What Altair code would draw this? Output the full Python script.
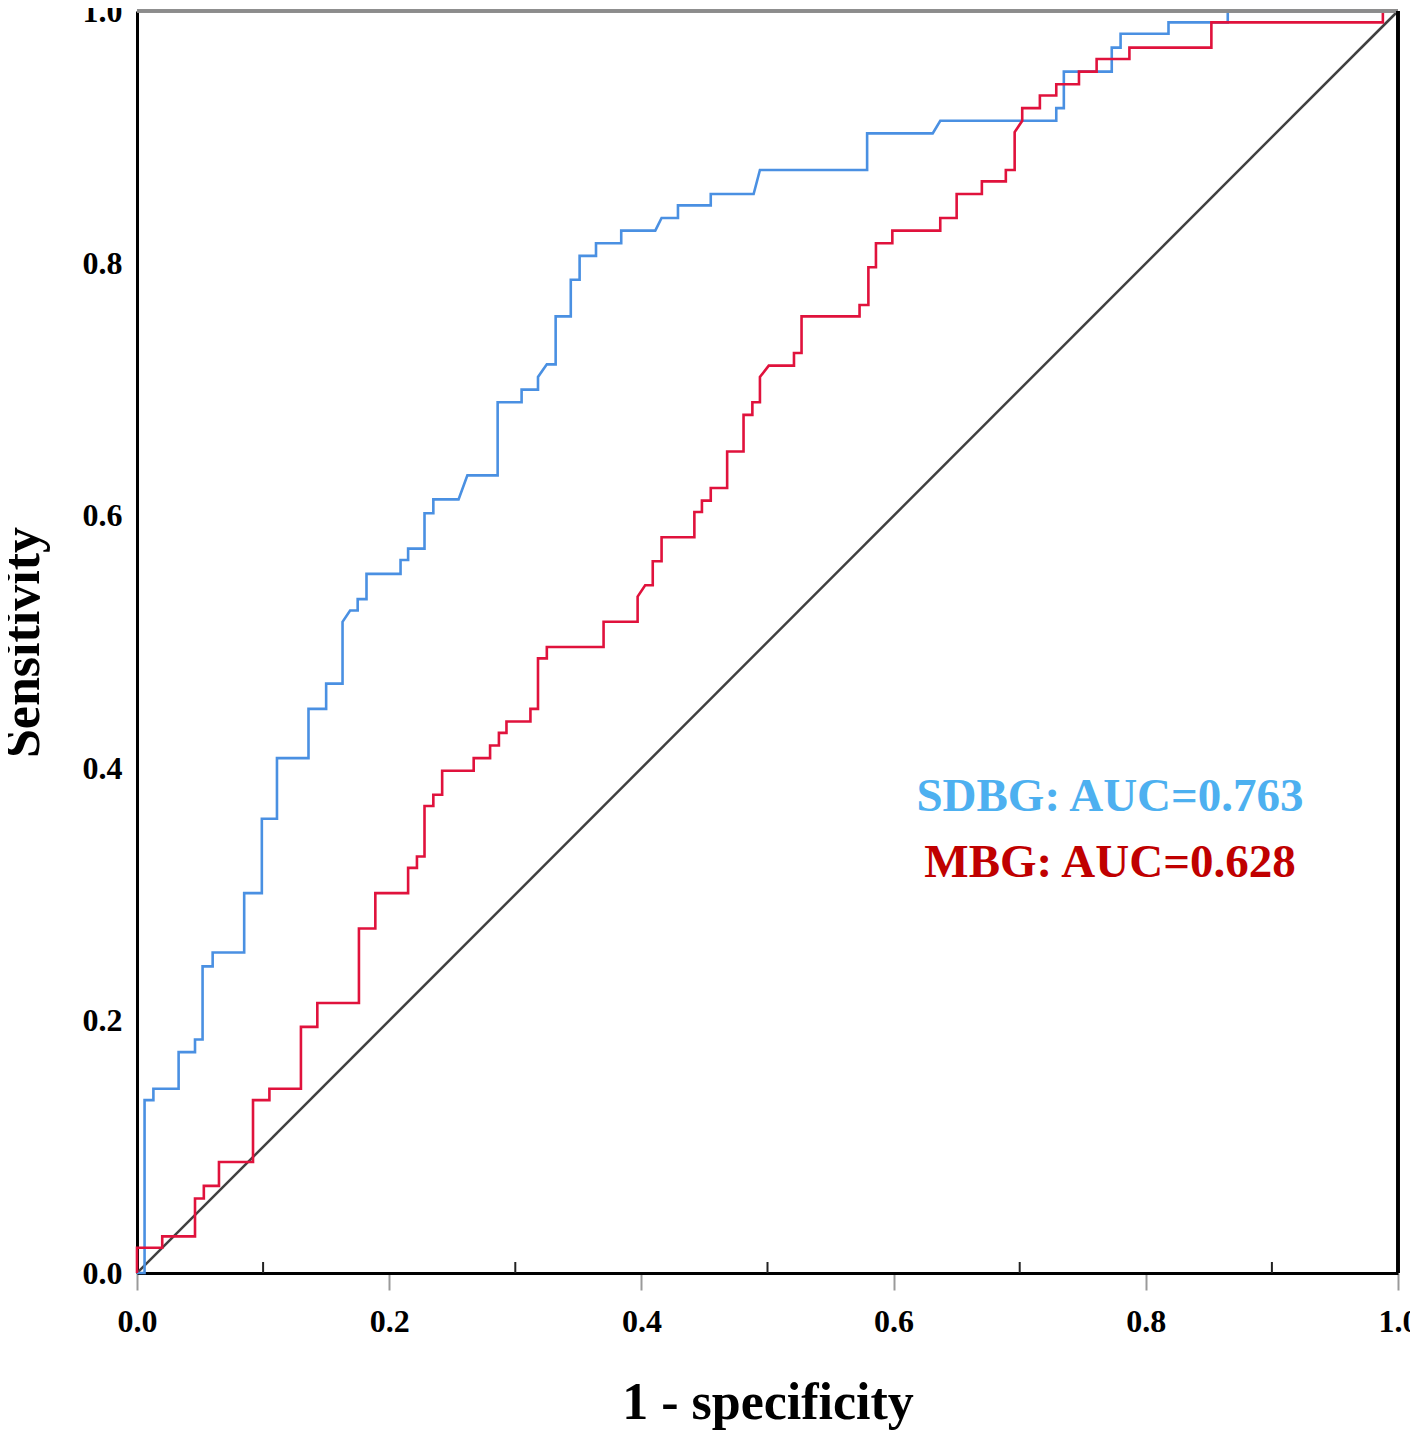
import altair as alt
import pandas as pd

# ---- data ----
sdbg_fpr = [0, 0.006, 0.006, 0.013, 0.013, 0.033, 0.033, 0.046, 0.046, 0.052, 0.052, 0.060, 0.060,
            0.085, 0.085, 0.099, 0.099, 0.111, 0.111, 0.136, 0.136, 0.150, 0.150, 0.163, 0.163, 0.169,
            0.175, 0.175, 0.182, 0.182, 0.209, 0.209, 0.215, 0.215, 0.228, 0.228, 0.235, 0.235, 0.255,
            0.262, 0.286, 0.286, 0.305, 0.305, 0.318, 0.318, 0.325, 0.332, 0.332, 0.344, 0.344, 0.351,
            0.351, 0.364, 0.364, 0.384, 0.384, 0.411, 0.416, 0.429, 0.429, 0.455, 0.455, 0.489, 0.494,
            0.579, 0.579, 0.631, 0.637, 0.729, 0.729, 0.735, 0.735, 0.773, 0.773, 0.780, 0.780, 0.818,
            0.818, 0.865, 0.865, 1.0]
sdbg_tpr = [0, 0, 0.137, 0.137, 0.146, 0.146, 0.175, 0.175, 0.185, 0.185, 0.243, 0.243, 0.254,
            0.254, 0.301, 0.301, 0.360, 0.360, 0.408, 0.408, 0.447, 0.447, 0.467, 0.467, 0.516, 0.525,
            0.525, 0.534, 0.534, 0.554, 0.554, 0.565, 0.565, 0.574, 0.574, 0.602, 0.602, 0.613, 0.613,
            0.632, 0.632, 0.690, 0.690, 0.700, 0.700, 0.710, 0.720, 0.720, 0.758, 0.758, 0.787, 0.787,
            0.806, 0.806, 0.816, 0.816, 0.826, 0.826, 0.836, 0.836, 0.846, 0.846, 0.855, 0.855, 0.874,
            0.874, 0.903, 0.903, 0.913, 0.913, 0.923, 0.923, 0.952, 0.952, 0.971, 0.971, 0.982, 0.982,
            0.991, 0.991, 1.0, 1.0]

mbg_fpr = [0, 0, 0.020, 0.020, 0.046, 0.046, 0.053, 0.053, 0.065, 0.065, 0.092, 0.092, 0.105, 0.105,
           0.130, 0.130, 0.143, 0.143, 0.176, 0.176, 0.189, 0.189, 0.215, 0.215, 0.222, 0.222, 0.228,
           0.228, 0.235, 0.235, 0.242, 0.242, 0.267, 0.267, 0.280, 0.280, 0.287, 0.287, 0.293, 0.293,
           0.312, 0.312, 0.318, 0.318, 0.325, 0.325, 0.370, 0.370, 0.397, 0.397, 0.403, 0.409, 0.409,
           0.416, 0.416, 0.442, 0.442, 0.448, 0.448, 0.455, 0.455, 0.468, 0.468, 0.481, 0.481, 0.488,
           0.488, 0.494, 0.494, 0.501, 0.521, 0.521, 0.527, 0.527, 0.573, 0.573, 0.580, 0.580, 0.586,
           0.586, 0.599, 0.599, 0.637, 0.637, 0.650, 0.650, 0.670, 0.670, 0.689, 0.689, 0.696, 0.696,
           0.702, 0.702, 0.716, 0.716, 0.729, 0.729, 0.747, 0.747, 0.761, 0.761, 0.787, 0.787, 0.852,
           0.852, 0.988, 0.988, 1.0]
mbg_tpr = [0, 0.020, 0.020, 0.029, 0.029, 0.059, 0.059, 0.069, 0.069, 0.088, 0.088, 0.137, 0.137, 0.146,
           0.146, 0.195, 0.195, 0.214, 0.214, 0.273, 0.273, 0.301, 0.301, 0.321, 0.321, 0.330, 0.330,
           0.370, 0.370, 0.379, 0.379, 0.398, 0.398, 0.408, 0.408, 0.418, 0.418, 0.428, 0.428, 0.437,
           0.437, 0.447, 0.447, 0.487, 0.487, 0.496, 0.496, 0.516, 0.516, 0.536, 0.545, 0.545, 0.564,
           0.564, 0.583, 0.583, 0.603, 0.603, 0.612, 0.612, 0.622, 0.622, 0.651, 0.651, 0.680, 0.680,
           0.690, 0.690, 0.710, 0.719, 0.719, 0.729, 0.729, 0.758, 0.758, 0.767, 0.767, 0.797, 0.797,
           0.816, 0.816, 0.826, 0.826, 0.836, 0.836, 0.855, 0.855, 0.865, 0.865, 0.874, 0.874, 0.904,
           0.913, 0.923, 0.923, 0.933, 0.933, 0.942, 0.942, 0.952, 0.952, 0.962, 0.962, 0.971, 0.971,
           0.991, 0.991, 1.0, 1.0]

ref_fpr = [0, 1]
ref_tpr = [0, 1]

series_names = ["SDBG", "MBG"]
auc_labels = ["SDBG: AUC=0.763", "MBG: AUC=0.628"]
tick_values = [0.0, 0.2, 0.4, 0.6, 0.8, 1.0]
minor_tick_values = [0.1, 0.3, 0.5, 0.7, 0.9]

# ---- tables ----
rows = []
for i, (f, t) in enumerate(zip(sdbg_fpr, sdbg_tpr)):
    rows.append({"series": "SDBG", "fpr": f, "tpr": t, "idx": i})
for i, (f, t) in enumerate(zip(mbg_fpr, mbg_tpr)):
    rows.append({"series": "MBG", "fpr": f, "tpr": t, "idx": i})
curves = pd.DataFrame(rows)
ref = pd.DataFrame({"fpr": ref_fpr, "tpr": ref_tpr, "idx": [0, 1]})
minor = pd.DataFrame({"fpr": minor_tick_values})

W, H = 1261, 1262
FONT = "Liberation Serif"

xs = alt.Scale(domain=[0, 1], nice=False, zero=False)
ys = alt.Scale(domain=[0, 1], nice=False, zero=False)

x_axis = alt.Axis(values=tick_values, format=".1f", grid=False, domain=True,
                  domainColor="black", domainWidth=3,
                  ticks=True, tickSize=17, tickColor="#9a9a9a", tickWidth=2,
                  labelFont=FONT, labelFontWeight="bold", labelFontSize=32,
                  labelColor="black", labelPadding=16, labelFlush=False,
                  labelOverlap=False,
                  title="1 - specificity", titleFont=FONT, titleFontWeight="bold",
                  titleFontSize=52, titleColor="black", titleY=145,
                  titleBaseline="alphabetic", titleAlign="center")
y_axis = alt.Axis(values=tick_values, format=".1f", grid=False, domain=True,
                  domainColor="black", domainWidth=3, ticks=False,
                  labelFont=FONT, labelFontWeight="bold", labelFontSize=32,
                  labelColor="black", labelPadding=15, labelFlush=False,
                  labelOverlap=False,
                  title="Sensitivity", titleFont=FONT, titleFontWeight="bold",
                  titleFontSize=52, titleColor="black", titleAngle=270,
                  titleX=-99, titleY=H / 2, titleBaseline="alphabetic",
                  titleAlign="center")

x_enc = alt.X("fpr:Q", scale=xs, axis=x_axis)
y_enc = alt.Y("tpr:Q", scale=ys, axis=y_axis)

diag = alt.Chart(ref).mark_line(color="#404040", strokeWidth=2.5).encode(
    x=x_enc, y=y_enc, order="idx:Q")

lines = alt.Chart(curves).mark_line(strokeWidth=2.6).encode(
    x=x_enc, y=y_enc,
    color=alt.Color("series:N", scale=alt.Scale(domain=series_names,
                                                range=["#4A90E2", "#E0123C"]),
                    legend=None),
    order="idx:Q")

minor_ticks = alt.Chart(minor).mark_rule(color="#222222", strokeWidth=2).encode(
    x=x_enc, y=alt.value(H - 11), y2=alt.value(H))

top_border = alt.Chart(minor).mark_rule(color="#8c8c8c", strokeWidth=3).encode(
    x=alt.value(0), x2=alt.value(W), y=alt.value(0))
right_border = alt.Chart(minor).mark_rule(color="black", strokeWidth=3).encode(
    x=alt.value(W), y=alt.value(0), y2=alt.value(H))

lab1 = alt.Chart(pd.DataFrame({"t": [auc_labels[0]]})).mark_text(
    font=FONT, fontWeight="bold", fontSize=47, color="#4DB0F0",
    align="center", baseline="middle").encode(
    text="t:N", x=alt.value(973), y=alt.value(786))
lab2 = alt.Chart(pd.DataFrame({"t": [auc_labels[1]]})).mark_text(
    font=FONT, fontWeight="bold", fontSize=47, color="#C00000",
    align="center", baseline="middle").encode(
    text="t:N", x=alt.value(973), y=alt.value(852))

chart = alt.layer(diag, lines, minor_ticks, top_border, right_border, lab1, lab2).properties(
    width=W, height=H,
    autosize=alt.AutoSizeParams(type="none"),
    padding={"left": 129, "top": 3, "right": 12, "bottom": 159},
    background="white",
).configure_view(stroke=None)

chart.save("out.html", embed_options={"renderer": "svg", "actions": False})
